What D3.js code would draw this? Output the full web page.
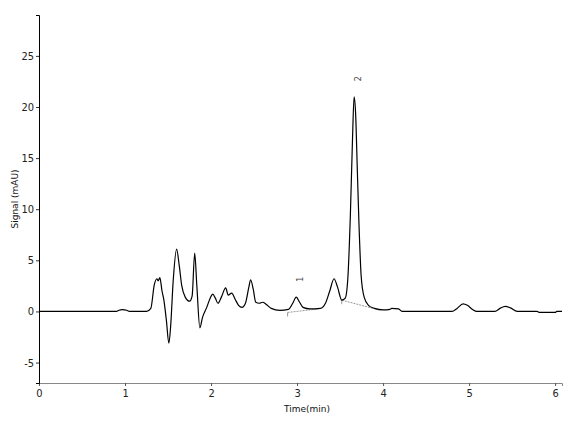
<!DOCTYPE html>
<html>
<head>
<meta charset="utf-8">
<script src="https://cdn.jsdelivr.net/npm/d3@7"></script>
<style>
  body { margin: 0; background: #fff; }
  svg { display: block; }
  .tick text { font-family: "Liberation Sans Narrow", "DejaVu Sans Condensed", sans-serif; font-size: 11px; fill: #222; }
</style>
</head>
<body>
<svg id="chart" width="571" height="428"></svg>
<script>
// retention time (min) and detector signal (mAU)
const time = [0.00, 0.90, 0.93, 0.97, 1.02, 1.05, 1.25, 1.30, 1.34, 1.37, 1.385, 1.405, 1.43, 1.45, 1.48, 1.51, 1.53, 1.56, 1.60, 1.63,
  1.66, 1.70, 1.75, 1.78, 1.81, 1.835, 1.87, 1.90, 1.95, 1.99, 2.02, 2.05, 2.08, 2.12, 2.17, 2.20, 2.24, 2.28, 2.32, 2.36,
  2.40, 2.44, 2.46, 2.49, 2.52, 2.56, 2.60, 2.64, 2.70, 2.80, 2.90, 2.95, 2.99, 3.03, 3.07, 3.15, 3.27, 3.33, 3.38, 3.43,
  3.47, 3.52, 3.56, 3.59, 3.62, 3.645, 3.663, 3.68, 3.70, 3.72, 3.745, 3.78, 3.83, 3.90, 4.00, 4.08, 4.10, 4.18, 4.22, 4.80,
  4.86, 4.93, 4.98, 5.04, 5.09, 5.30, 5.36, 5.42, 5.48, 5.56, 5.79, 5.82, 6.00, 6.02, 6.08];
const signal = [0.0, 0.0, 0.12, 0.18, 0.12, 0.0, 0.0, 0.3, 2.6, 3.2, 3.0, 3.3, 2.0, 1.2, -0.8, -3.1, -1.5, 3.0, 6.1, 4.5,
  2.5, 1.4, 1.0, 1.5, 5.7, 2.5, -1.6, -0.6, 0.4, 1.3, 1.7, 1.3, 0.8, 1.4, 2.3, 1.6, 1.8, 1.2, 0.6, 0.4,
  0.8, 2.4, 3.1, 2.2, 0.9, 0.8, 0.9, 0.7, 0.3, 0.1, 0.2, 0.8, 1.4, 0.9, 0.4, 0.25, 0.3, 0.8, 2.0, 3.2,
  2.4, 1.1, 1.3, 3.2, 9.5, 17.0, 21.0, 19.5, 14.0, 8.5, 3.5, 1.4, 0.6, 0.3, 0.15, 0.2, 0.3, 0.25, 0.0, 0.0,
  0.3, 0.75, 0.6, 0.2, 0.0, 0.0, 0.3, 0.5, 0.35, 0.0, 0.0, -0.1, -0.1, 0.0, 0.0];

// integrated peaks: label, apex, baseline start/end
const peakLabels = ["1", "2"];
const peakApex = [[2.99, 1.4], [3.663, 21.0]];
const baseStart = [[2.89, -0.1], [3.52, 1.1]];
const baseEnd = [[3.25, 0.25], [3.93, 0.2]];

const xTicks = [0, 1, 2, 3, 4, 5, 6];
const yTicks = [-5, 0, 5, 10, 15, 20, 25];

const data = time.map((t, i) => ({ t: t, v: signal[i] }));

const svg = d3.select("#chart");

const x = d3.scaleLinear().domain([0, 6.08]).range([39, 562]);
const y = d3.scaleLinear().domain([-7, 29]).range([383, 15]);

// x axis (grey line at the bottom)
const xAxis = svg.append("g")
  .attr("transform", `translate(0,${y(-7)})`)
  .call(d3.axisBottom(x).tickValues(xTicks).tickFormat(d3.format("d")).tickSizeOuter(0).tickSize(3).tickPadding(3));
xAxis.select(".domain").attr("stroke", "#888");
xAxis.selectAll(".tick line").attr("stroke", "#555");

// y axis
const yAxis = svg.append("g")
  .attr("transform", `translate(${x(0)},0)`)
  .call(d3.axisLeft(y).tickValues(yTicks).tickSizeOuter(0).tickSize(3).tickPadding(2)
    .tickFormat(d => d < 0 ? "-" + Math.abs(d) : d));
yAxis.select(".domain").attr("stroke", "#000");
yAxis.selectAll(".tick line").attr("stroke", "#333");

svg.append("text")
  .attr("x", 307)
  .attr("y", 412)
  .attr("text-anchor", "middle")
  .attr("font-family", "DejaVu Sans, sans-serif")
  .attr("font-size", "9px")
  .attr("fill", "#111")
  .text("Time(min)");

svg.append("text")
  .attr("transform", `translate(18,${(y(29) + y(-7)) / 2}) rotate(-90)`)
  .attr("text-anchor", "middle")
  .attr("font-family", "DejaVu Sans, sans-serif")
  .attr("font-size", "9px")
  .attr("fill", "#111")
  .text("Signal (mAU)");

// integration baselines
peakLabels.forEach((lab, i) => {
  svg.append("line")
    .attr("x1", x(baseStart[i][0])).attr("y1", y(baseStart[i][1]))
    .attr("x2", x(baseEnd[i][0])).attr("y2", y(baseEnd[i][1]))
    .attr("stroke", "#999")
    .attr("stroke-width", 1)
    .attr("stroke-dasharray", "2,1");
  svg.append("line")
    .attr("x1", x(baseStart[i][0])).attr("y1", y(baseStart[i][1]))
    .attr("x2", x(baseStart[i][0])).attr("y2", y(baseStart[i][1]) + 4)
    .attr("stroke", "#999")
    .attr("stroke-width", 1);
});

// chromatogram trace
const line = d3.line()
  .x(d => x(d.t))
  .y(d => y(d.v))
  .curve(d3.curveMonotoneX);

svg.append("path")
  .datum(data)
  .attr("fill", "none")
  .attr("stroke", "#000")
  .attr("stroke-width", 1.2)
  .attr("d", line);

// peak labels
peakLabels.forEach((lab, i) => {
  svg.append("text")
    .attr("transform", `translate(${x(peakApex[i][0]) + 7},${y(peakApex[i][1]) - 18}) rotate(-90)`)
    .attr("text-anchor", "middle")
    .attr("font-family", "DejaVu Sans, sans-serif")
    .attr("font-size", "8px")
    .attr("fill", "#444")
    .text(lab);
});
</script>
</body>
</html>
